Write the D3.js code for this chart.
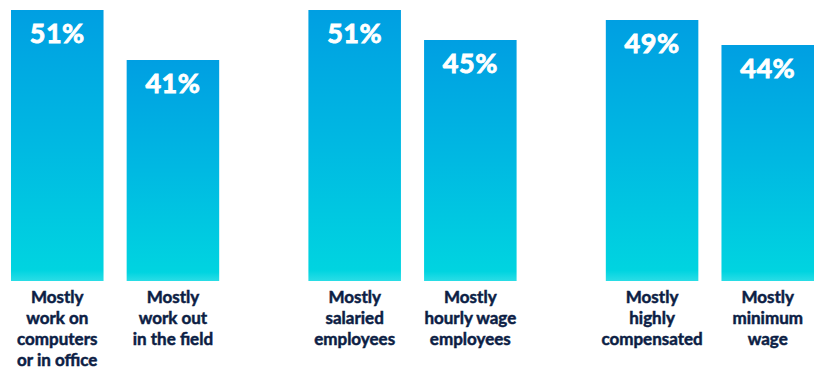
<!DOCTYPE html>
<html>
<head>
<meta charset="utf-8">
<script src="https://cdn.jsdelivr.net/npm/d3@7"></script>
<style>
  body { margin: 0; background: #fff; }
  svg { display: block; }
</style>
</head>
<body>
<svg id="chart"></svg>
<script>
// data
const groups = ["Work setting", "Pay type", "Pay level"];
const categories = [
  ["Mostly", "work on", "computers", "or in office"],
  ["Mostly", "work out", "in the field"],
  ["Mostly", "salaried", "employees"],
  ["Mostly", "hourly wage", "employees"],
  ["Mostly", "highly", "compensated"],
  ["Mostly", "minimum", "wage"]
];
const values = [51, 41, 51, 45, 49, 44];
const groupOf = [0, 0, 1, 1, 2, 2];

const width = 825, height = 378;
const baseY = 281;

const svg = d3.select("#chart")
    .attr("width", width)
    .attr("height", height);

// bar gradient (blue on top, cyan at the bottom)
const grad = svg.append("defs").append("linearGradient")
    .attr("id", "barGrad")
    .attr("x1", 0).attr("y1", 0)
    .attr("x2", 0).attr("y2", 1);
grad.append("stop").attr("offset", "0%").attr("stop-color", "#009fe2");
grad.append("stop").attr("offset", "50%").attr("stop-color", "#00b9e2");
grad.append("stop").attr("offset", "96%").attr("stop-color", "#00d4e0");
grad.append("stop").attr("offset", "100%").attr("stop-color", "#2adde6");

const xGroup = d3.scaleBand()
    .domain(d3.range(groups.length))
    .range([11, 814])
    .paddingInner(0.3);

const xInner = d3.scaleBand()
    .domain([0, 1])
    .range([0, xGroup.bandwidth()])
    .paddingInner(0.2);

// baseline sits a little below zero in the original
const y = d3.scaleLinear()
    .domain([-3.2, 51])
    .range([baseY, 10]);

const bars = values.map((v, i) => ({
  v: v,
  lines: categories[i],
  x: xGroup(groupOf[i]) + xInner(i % 2)
}));

const g = svg.append("g");

g.selectAll("rect.bar")
  .data(bars)
  .join("rect")
    .attr("class", "bar")
    .attr("x", d => d.x)
    .attr("y", d => y(d.v))
    .attr("width", xInner.bandwidth())
    .attr("height", d => baseY - y(d.v))
    .attr("fill", "url(#barGrad)");

// values: a thin stroke thickens the bold face
g.selectAll("text.val")
  .data(bars)
  .join("text")
    .attr("class", "val")
    .attr("x", d => d.x + xInner.bandwidth() / 2)
    .attr("y", d => y(d.v) + 33)
    .attr("text-anchor", "middle")
    .style("font-family", "Lato, 'Open Sans', sans-serif")
    .style("font-weight", 700)
    .style("font-size", "27px")
    .style("letter-spacing", "0.5px")
    .style("fill", "#fff")
    .style("stroke", "#fff")
    .style("stroke-width", 0.9)
    .text(d => d.v + "%");

const labels = g.selectAll("text.cat")
  .data(bars)
  .join("text")
    .attr("class", "cat")
    .attr("text-anchor", "middle")
    .style("font-family", "Lato, 'Open Sans', sans-serif")
    .style("font-weight", 700)
    .style("font-size", "17px")
    .style("fill", "#0c1e45")
    .style("stroke", "#0c1e45")
    .style("stroke-width", 0.5);

labels.selectAll("tspan")
  .data(d => d.lines.map(t => ({t: t, x: d.x + xInner.bandwidth() / 2})))
  .join("tspan")
    .attr("x", d => d.x)
    .attr("y", (d, i) => 303 + i * 21)
    .text(d => d.t);
</script>
</body>
</html>
